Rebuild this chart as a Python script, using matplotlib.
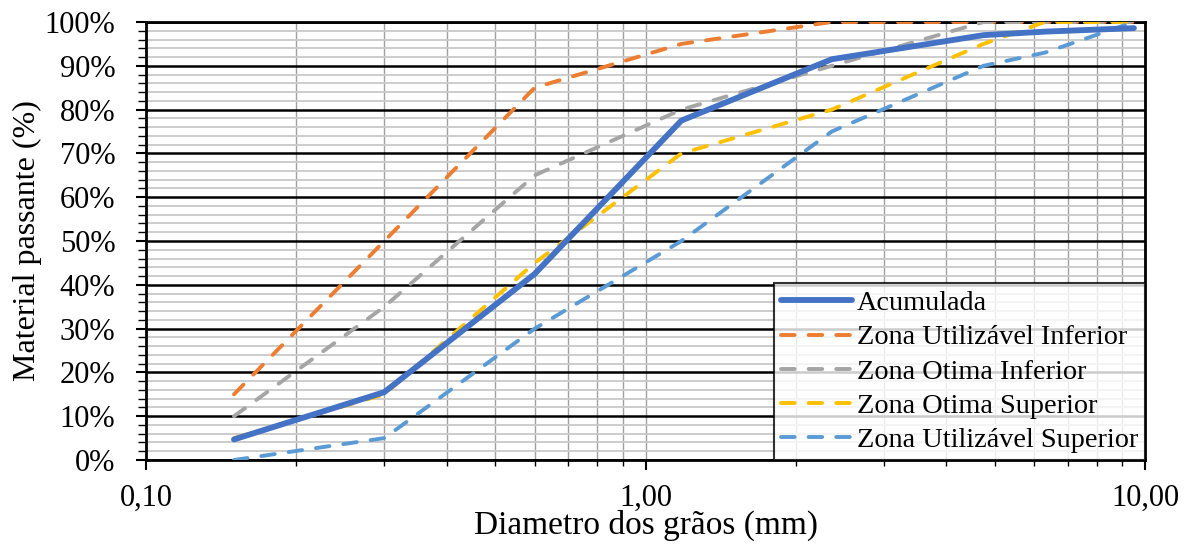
import matplotlib.pyplot as plt
from matplotlib.ticker import FixedLocator, FuncFormatter, LogLocator, MultipleLocator, NullFormatter

plt.rcParams['font.family'] = ['Liberation Serif', 'DejaVu Serif']

# sieve openings (mm)
sieves = [0.15, 0.3, 0.6, 1.18, 2.36, 4.75, 6.3, 9.5]

acumulada = [4.7, 15.5, 42.5, 77.5, 91.5, 97.0, 97.8, 98.6]
util_inf = [15, 50, 85, 95, 100, 100, 100, 100]
otima_inf = [10, 35, 65, 80, 90, 100, 100, 100]
otima_sup = [5, 15, 45, 70, 80, 95, 100, 100]
util_sup = [0, 5, 30, 50, 75, 90, 93, 100]

labels = ['Acumulada', 'Zona Utilizável Inferior', 'Zona Otima Inferior',
          'Zona Otima Superior', 'Zona Utilizável Superior']
colors = ['#4472C4', '#ED7D31', '#A5A5A5', '#FFC000', '#5B9BD5']

fig = plt.figure(figsize=(11.91, 5.5), dpi=100)
ax = fig.add_axes([0.1226, 0.1636, 0.8388, 0.7964])

ax.plot(sieves, acumulada, color=colors[0], lw=4.2, solid_capstyle='round',
        solid_joinstyle='miter', label=labels[0], zorder=5)
series = [util_inf, otima_inf, otima_sup, util_sup]
for vals, c, lab in zip(series, colors[1:], labels[1:]):
    ax.plot(sieves, vals, color=c, lw=2.8, dashes=(3.5, 3.6),
            dash_capstyle='round', label=lab, zorder=4)

ax.set_xscale('log')
ax.set_xlim(0.1, 10)
ax.set_ylim(0, 100)

ax.xaxis.set_major_locator(FixedLocator([0.1, 1, 10]))
ax.xaxis.set_minor_locator(LogLocator(base=10, subs=range(2, 10)))
ax.xaxis.set_major_formatter(FuncFormatter(lambda v, p: ('%.2f' % v).replace('.', ',')))
ax.xaxis.set_minor_formatter(NullFormatter())

ax.yaxis.set_major_locator(MultipleLocator(10))
ax.yaxis.set_minor_locator(MultipleLocator(2))
ax.yaxis.set_major_formatter(FuncFormatter(lambda v, p: '%d%%' % v))

ax.grid(which='minor', axis='y', color='#C8C8C8', lw=1.3, zorder=1)
ax.grid(which='major', axis='y', color='black', lw=1.8, zorder=2)
ax.grid(which='both', axis='x', color='#A0A0A0', lw=1.0, zorder=1)

for s in ax.spines.values():
    s.set_linewidth(2.0)
    s.set_color('black')

ax.tick_params(axis='both', which='major', labelsize=22, direction='out', length=7, width=1.5)
ax.tick_params(axis='y', which='minor', direction='out', length=6, width=1.0)
ax.tick_params(axis='x', which='minor', direction='out', length=4, width=1.0)
ax.tick_params(axis='x', which='major', pad=10)
ax.tick_params(axis='y', which='major', pad=15)

ax.set_xlabel('Diametro dos grãos (mm)', fontsize=24, labelpad=-2)
ax.set_ylabel('Material passante (%)', fontsize=23, labelpad=2)

leg = ax.legend(loc='lower right', fontsize=20.3, frameon=True, fancybox=False,
                borderaxespad=0, handlelength=2.55, handletextpad=0.15,
                labelspacing=0.3, borderpad=0.25)
leg.get_frame().set_edgecolor('black')
leg.get_frame().set_linewidth(1.5)
leg.set_zorder(10)

fig.savefig('out.png', dpi=100)
